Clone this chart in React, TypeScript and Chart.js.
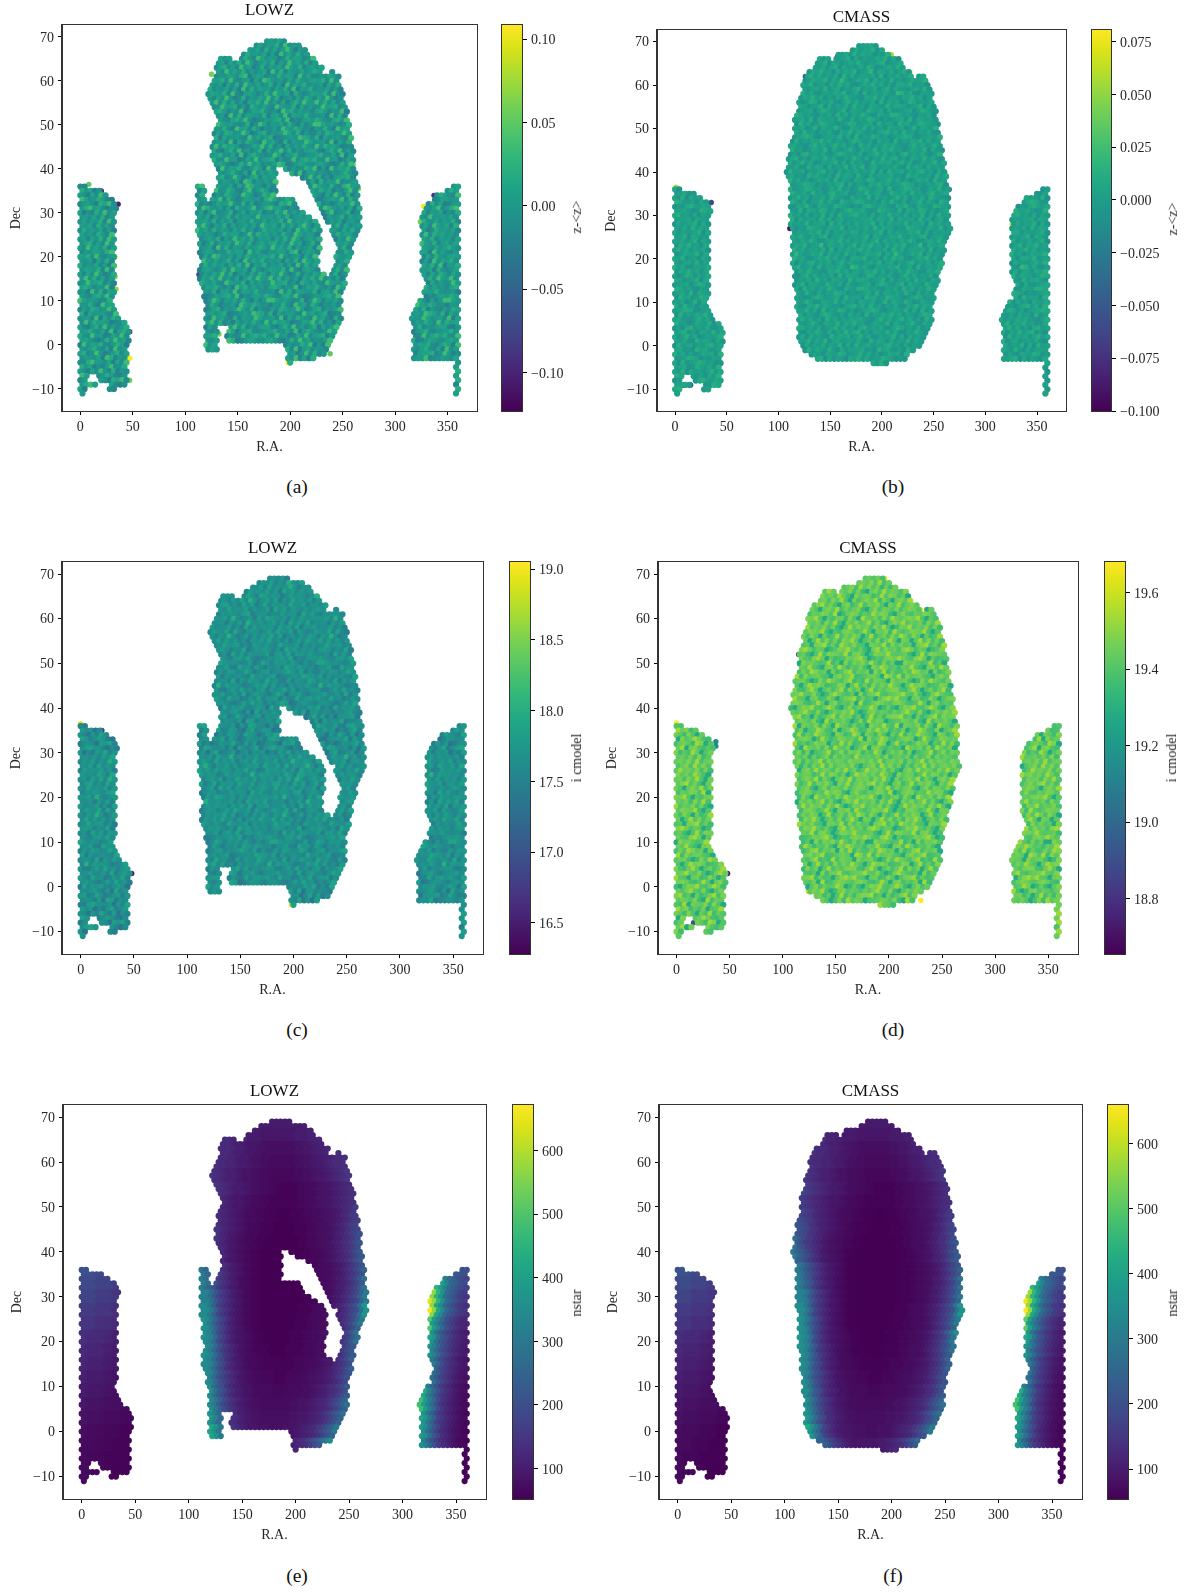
import React, { useEffect, useRef } from "react";
import { Chart, registerables } from "chart.js";
Chart.register(...registerables);
Chart.defaults.font.family = "'Liberation Serif', serif";

// Footprints: one row per degree of Dec, flat [from,to,from,to...] R.A. pairs.
const mainLowz = [
[175,197],[165,211],[159,218],[154,221],[130,146,151,224],[130,229],[128,234],[128,231,235,244],[126,248],[124,249],
[122,250],[121,251],[119,252],[120,253],[122,254],[124,255],[126,256],[128,257],[129,257],[129,258],
[128,258],[126,259],[125,260],[123,261],[123,261],[123,262],[124,262],[125,263],[128,263],[129,188,192,264],
[130,188,198,265],[130,188,207,265],[131,188,213,266],[110,120,129,188,216,267],[110,120,127,188,219,267],[110,120,124,188,222,267],[110,120,122,206,224,267],[110,208,225,268],[110,211,227,268],[110,216,229,268],
[110,223,231,268],[110,226,234,268],[110,228,237,268],[110,230,238,267],[110,231,240,265],[111,231,241,262],[111,231,242,261],[111,231,243,261],[112,230,243,260],[113,229,242,258],
[113,229,241,258],[112,229,240,257],[111,229,239,256],[111,234,238,256],[112,255],[113,255],[114,254],[116,253],[116,251],[116,251],
[117,251],[117,251],[117,251],[117,250],[117,248],[118,133,139,247],[118,132,138,247],[118,131,138,243],[118,133,140,241],[118,133,194,240],
[118,133,194,238],[195,234],[196,224],[196,202],
];
const mainCmass = [
[176,197],[167,203],[155,210],[138,150,152,218],[135,220],[132,225],[128,230],[125,232,234,245],[123,247],[122,249],
[121,250],[120,250],[119,251],[118,252],[117,253],[116,254],[115,255],[114,256],[113,256],[113,257],
[113,258],[112,258],[111,259],[110,260],[110,260],[109,261],[108,261],[108,262],[106,263],[106,263],
[108,265],[109,265],[110,266],[110,267],[110,267],[110,267],[110,267],[110,267],[110,267],[110,267],
[110,267],[110,268],[111,268],[111,267],[111,266],[111,264],[111,263],[111,262],[111,262],[111,261],
[112,260],[112,259],[113,258],[113,257],[114,256],[114,255],[115,254],[115,253],[116,252],[116,251],
[116,251],[117,251],[117,250],[117,250],[118,249],[118,247],[118,245],[118,243],[119,241],[120,238],
[124,234],[130,229],[136,224],[190,206],
];
const westBlock = [
[-2,8],[-2,20],[-2,27],[-2,33],[-2,37],[-2,36],[-2,36],[-2,35],[-2,35],[-2,35],[-2,35],[-2,35],
[-2,34],[-2,34],[-2,34],[-2,34],[-2,34],[-2,34],[-2,34],[-2,34],[-2,34],[-2,34],[-2,34],[-2,34],[-2,34],[-2,34],
[-2,33],[-2,33],[-2,37],[-2,38],[-2,40],[-2,47],[-2,48],[-2,48],[-2,48],[-2,48],[-2,47],
[-2,47],[-2,47],[-2,47],[-2,47],[-2,47],[-2,47],[-2,11,16,47],[-2,9,16,47],[-2,16,25,46],[-2,6,26,35],[-2,6],
];
const eastBlock = [
[353,362],[347,362],[338,362],[334,362],[330,362],[327,362],[325,362],[324,362],[323,362],
[324,362],[324,362],[324,362],[324,362],[324,362],[324,362],[324,362],[324,362],[324,362],[324,362],[324,362],
[326,362],[326,362],[327,362],[327,362],[326,362],[325,362],[322,362],[318,362],[315,362],[314,362],[313,362],[314,362],
[315,362],[315,362],[315,362],[315,362],[315,362],[315,362],[315,362],[316,362],
[355,362],[355,362],[355,362],[355,362],[355,362],[355,362],[355,362],[355,362],
];

// Cell speckle: the cell-level colours are eyeballed estimates, one digit per cell, not measured values.
const speckleLowzZ = [
"564738256471635827465395","473658294657382647156384","657284736951648273564729","385647261957384652748361",
"746385297465138576249386","562748396257481639574826","478362957148265739648257","639574826357194826537468",
"254763891576243857619473","768394256173985462738546","546173829647358261947583","835472619384756274839165",
"476582931675248396571842","627495138264759381462738","594837261758493627158496","349678251864732965481736",
"786254913768425196837452","451938276548167392765843","632785941236578491326758","975642381497265738416259",
"548319672851436297586341","263874596137825469738152","817456329574681235649873","456291738642957318265497",
"394867512376948251736485","721584936258173694825367","568437291685324971568324","843956127493678152394786",
"675213849572436981257643","194768325861947253486915","536842719364758291673542","782495136827561493825167",
"465371982546392718465923","328965471739854162397548","857142693486217935861274","641739528153864297513869",
"973586214675928413764528","256418793824137569428371","589673142398546271853692","714285936471692358147265",
];
const speckleCmassZ = [
"455636547264553746256345","364557263645473556274635","546374655243765436547254","635445726354465736254546",
"457265346574354672456345","546357264536475235647463","365745264657345826546357","574635462746355463725464",
"246557364853465726453745","657345264756324657463526","435647356254673546257364","746325546573462735546428",
"365746253647543265746355","524763546325746354627365","653457263546374526543746","345625764357265437546263",
"764532546274635475326547","456372654537426354765243","275634765423576345627455","546247365475236547364526",
"637452546326574653425674","456763245547362735476352","273546574635425764352645","564325746357463527463546",
"745236547264357426547365","352674546325764536245746","467352654746325475362547","635746235457362645327465",
"546327465263547364725634","274563546745263546354726","563427564352746537426355","746352465627354265476345",
"345765243546726354265746","627345764523647352476535","456237546374526745632547","537264535746254637543264",
"764352647536245736427546","243675465326574265437654","556423765437265476352467","674536254745362547263745",
];
const speckleLowzI = [
"453627485362745936254736","364725396475283647156384","547283646951547362465728","275647361857374652648351",
"645385287465137465249376","462738396257471538463726","378352847148265638547256","538464726347184726436357",
"254653781465243746518473","657394246173875462637546","445163729546357261847482","734472518374656274738165",
"375482831565247385471742","526495137263658371362637","483736251647483526147385","348567241753632854471635",
"675243813657425185736452","351837265447167382664743","532674831235467481325657","864542371386265637315248",
"447218562741436286475341","263763485136724468637152","716345328463571234548763","355281637542846217264386",
"293756412375837241635474","621473835257163583724356","457336281574314860457313","742845126382567152283675",
"564213738461425870146532","183657324750836243375814","435731608253647280562431","671384125716450382714056",
"354260871435281607354812","217854360628743051286437","746031582375106824750163","530628417042753186402758",
"862475103564817302653417","145307682713026458317260","478562031287435160742581","603174825360581247036154",
];
const speckleCmassI = [
"564738256471635827465395","675849367582746938576486","468395847162759384675830","596758372068495763859472",
"857496308576249487360497","673859407368592740685937","589473068259376840759368","740685937468205837648368",
"365874902687354968720584","879405367284096573849657","657284930758469372058694","946583720495867385940276",
"587693042786359407682953","738506249375860492573849","605948372869504738269507","450789362975843076592847",
"897365024879536207948563","562049387659278403876954","743896052347689502437869","086753492508376849527360",
"659420783962547308697452","374985607248936570849263","928567430685792346750984","567302849753792429376508",
"405978623487059362847596","832695047369284705936478","679548302796435082679435","954067238504789263405897",
"786324950683547092368754","205879436972058364597026","647953820475869302784653","893506247938672504936278",
"576482093657403829576034","439076582840965273408659","968253704597328046972385","752840639264975308624970",
"084697325786039524875639","367529804935248670539482","690784253409657382964703","825396047582703469258376",
];
const digitLevelsLowzZ = [-0.032, -0.022, -0.015, -0.009, -0.004, 0.001, 0.006, 0.012, 0.021, 0.036];
const digitLevelsCmassZ = [-0.026, -0.016, -0.009, -0.004, 0, 0.004, 0.008, 0.013, 0.019, 0.029];
const digitLevelsLowzI = [17.36, 17.47, 17.54, 17.6, 17.65, 17.7, 17.75, 17.81, 17.88, 18.02];
const digitLevelsCmassI = [19.28, 19.33, 19.36, 19.38, 19.4, 19.42, 19.44, 19.46, 19.48, 19.53];

// nstar: base-36 index into nstarLevels per sky column, one row per 3 deg of Dec.
const nstarLevels = [52,58,64,70,76,83,90,98,106,115,125,135,147,160,175,190,205,222,240,260,280,300,320,345,370,395,420,450,480,510,540,570,600,625,645,665];
const nstarColsWest = [0, 8, 16, 24, 32, 40, 48];
const nstarColsMain = [108,112,116,120,124,128,132,136,140,144,148,152,156,160,164,168,172,176,180,184,188,192,196,200,204,208,212,216,220,224,228,232,236,240,244,248,252,256,260,264,268];
const nstarColsEast = [312,316,320,324,328,332,336,340,344,348,352,356,360];
const nstarMain = [
"888888888888888 7777777777 8888888888888888",
"aaaaaaaa 99 88 777 66666666 777 88 99 aaaaaaaaaaa",
"bbbbbb aa 9 88 7 66 55 4444444 55 66 7 88 9 aa bb cccccc",
"bbbbb aa 9 9 8 7 7 6 5 5 4 4 3 3 3 3 3 3 4 4 5 5 6 7 7 8 9 a a b b c c c c c",
"ddd c b a 9 8 8 7 6 5 5 4 4 3 3 2 2 2 2 2 2 3 3 4 4 5 6 6 7 8 9 a b c d d e e e",
"eee d c b a 9 8 7 7 6 5 4 4 3 3 2 2 1 1 1 1 1 2 2 3 3 4 5 5 6 7 8 9 a b c d e f",
"ee d c b a 9 8 7 6 6 5 4 3 3 2 2 1 1 1 1 1 1 1 2 2 3 3 4 5 5 6 7 8 9 a b d e f f",
"ff e d c a 9 8 7 6 5 4 3 3 2 2 1 1 1 0 0 0 1 1 1 2 2 3 3 4 5 5 6 7 9 a c d f g g",
"hg f e c b 9 8 7 6 5 4 3 2 2 1 1 1 0 0 0 0 0 1 1 1 2 2 3 4 4 5 6 8 9 b d e g i i",
"kh f d c a 9 7 6 5 4 3 2 2 1 1 0 0 0 0 0 0 0 0 1 1 2 2 3 4 4 5 7 8 a b d f h j j",
"li h f d b 9 7 6 5 4 3 2 1 1 0 0 0 0 0 0 0 0 0 0 1 1 2 2 3 4 5 6 8 9 b d f h k k",
"ll j h f d b 9 7 6 5 3 2 1 1 0 0 0 0 0 0 0 0 0 0 1 1 1 2 3 3 4 5 6 8 a c e g i l",
"mm k i g d b 9 7 6 4 3 2 1 1 0 0 0 0 0 0 0 0 0 0 1 1 1 2 3 3 4 5 7 8 a c e h k m",
"mmm k h e c a 8 6 5 3 2 1 1 0 0 0 0 0 0 0 0 0 0 1 1 1 2 3 3 4 6 7 9 b d f i l o",
"nnn l i e c a 8 6 5 3 2 1 1 0 0 0 0 0 0 0 0 0 1 1 1 2 3 3 4 5 7 8 a c e g k o q",
"oo n l i f d a 8 6 5 3 2 1 1 0 0 0 0 0 0 0 0 1 1 1 2 2 3 3 4 5 7 9 b d f i l o o",
"oo n m j f d a 8 6 5 4 3 2 1 1 0 0 0 0 0 0 1 1 1 2 2 3 3 4 5 6 8 a c e h k n n n",
"oo n m j g d b 9 7 5 4 3 2 1 1 1 0 0 0 0 1 1 1 1 2 2 3 4 4 5 7 9 b d f h k m m m",
"nnn m j g e b 9 7 6 4 3 3 2 2 1 1 1 1 1 1 1 2 2 2 3 3 4 5 6 7 9 b d f i k l l l",
"nnn m j g e c a 8 6 5 4 3 3 2 2 2 1 1 1 2 2 2 3 3 4 4 5 6 7 8 a c e g i k k k k",
"nnnn k h f c a 8 7 5 5 4 3 3 3 3 2 2 2 3 3 3 3 4 4 5 6 7 8 a b d f h j k k k k",
"nnnn l i f d b 9 7 6 5 4 4 3 3 3 3 3 3 3 4 4 5 5 6 7 8 9 a c e g i k l l l l l",
"ppp o m j g e b a 8 7 6 5 5 4 4 4 4 4 4 4 5 5 6 6 7 8 9 a c e g i k m m m m m m",
"qqqq o l i e c a 8 7 6 6 5 5 5 4 4 4 5 5 5 6 7 8 9 a c e g i l n o o o o o o o",
"iiiiiiii g e c a 8 7 6 6 6 6 6 6 7 7 8 9 a b d f h j l n n n n n n n n n n",
];
const nstarWest = ["ggffeee","ffeedcc","eeddcba","ddccba9","ccbba98","baa9887","a998776","9887665","8776554","7665443","6554432","5443322","4332211","3322111","3221111","3221111"];
const nstarEast = [
"iiiiiiiiihhgg","ssss s r p m j i g f e","yyyy v r o k i g e d c","zzzz v q n j h f d c b","tttt p m j g e c a 9 9","qqqq o k h f d b 9 8 7",
"oooo m j g e c a 8 7 6","nnnn l i f d b 9 7 6 5","oooo k h e c a 8 6 5 4","s s q m j g d b 9 7 5 4 3","s s p m j f c a 8 6 5 3 3","q q o l i e c a 8 6 4 3 2",
"p p n k h e b 9 7 5 4 2 1","o o m j g d b 9 7 5 3 2 1","1111111111111","1111111111111",
];

// Stand-out cells: [R.A., Dec, value].
const outliersA = [[145,1,.11],[187,1,.1],[191,1,.11],[198,-4,.11],[33,20,.1],[47,-3,.11],[327,31.5,.11],[150,1,-.11],[153,1,-.115],[167,1,-.11],[47,3,-.12],[20,35,-.09],[36,32,-.1],[183,69,.08],[187,68.5,-.09],[209,67.5,-.08],[264,27,-.09],[180,40,-.1],[223,27,-.08],[337,34,-.09],[125,61.5,.06],[260,41,.06],[265,35.5,.065],[324,28,.06],[347,19,.06],[132,2.5,.06],[238,15,.07],[2,8,.05],[8,-9,.06],[33,15.5,.06],[34,12.7,.07],[47,-8,.06],[113,16,-.07],[238,-2,.05],[249,6,.05],[8,36.5,.05],[168,64,.05],[208,65,.05],[165,67,.05]];
const outliersB = [[171,68,.08],[157,66.5,-.1],[227,63,.07],[209,67,.055],[147,64,.06],[1,36.5,.06],[35,33,-.06],[265,36,-.07],[116,52,-.07],[111,27,-.09],[126,62,-.05],[15,-9,-.09],[8,-9,-.09],[359,-11,.075],[261,40,.05],[326,28,.06],[182,48,.05],[5,23,.05]];
const outliersC = [[0,36.5,18.9],[330,31,18.8],[125,58,18.7],[48,3,16.5],[20,35,16.8],[198,-4,18.9],[125,3,18.6],[146,1,18.8],[188,1,18.8],[33,20,18.6],[225,62,16.9],[264,27,16.8]];
const outliersD = [[48,3,18.7],[16,-8,18.9],[245,11,18.8],[125,2,19.68],[0,36.7,19.68],[230,-3,19.68],[230,62,19.65],[115,52,18.75],[37,32.5,19.15],[37,31.5,19.15],[120,34.4,19.6],[196,69,19.66],[124,-1,19.62]];
const skyGaps = [[348,22]];

const ticksA = [-0.1, -0.05, 0, 0.05, 0.1];
const ticksB = [-0.1, -0.075, -0.05, -0.025, 0, 0.025, 0.05, 0.075];
const ticksC = [16.5, 17, 17.5, 18, 18.5, 19];
const ticksD = [18.8, 19, 19.2, 19.4, 19.6];
const ticksNstar = [100, 200, 300, 400, 500, 600];
const ticksRa = [0, 50, 100, 150, 200, 250, 300, 350];
const ticksDec = [-10, 0, 10, 20, 30, 40, 50, 60, 70];

const viridisStops = [
[0,"#440154"],[.05,"#471365"],[.1,"#482475"],[.15,"#463480"],[.2,"#414487"],[.25,"#3b528b"],[.3,"#355f8d"],[.35,"#2f6c8e"],[.4,"#2a788e"],[.45,"#25848e"],[.5,"#21918c"],
[.55,"#1e9c89"],[.6,"#22a884"],[.65,"#2fb47c"],[.7,"#44bf70"],[.75,"#5ec962"],[.8,"#7ad151"],[.85,"#9bd93c"],[.9,"#bddf26"],[.95,"#dfe318"],[1,"#fde725"],
] as [number, string][];

function hexRgb(h: string) { return [1, 3, 5].map((i) => parseInt(h.slice(i, i + 2), 16)); }
function viridis(t: number) {
  const f = Math.max(0, Math.min(1, t)) * 20;
  const i = Math.min(19, Math.floor(f));
  const a = hexRgb(viridisStops[i][1]), b = hexRgb(viridisStops[i + 1][1]);
  const m = f - i;
  return `rgb(${a.map((v, k) => Math.round(v + (b[k] - v) * m)).join(",")})`;
}

function nearest(cols: number[], ra: number) {
  let best = 0;
  cols.forEach((c, i) => { if (Math.abs(c - ra) < Math.abs(cols[best] - ra)) best = i; });
  return best;
}
function nstarAt(ra: number, dec: number) {
  const band = Math.max(0, Math.min(26, Math.round((69 - dec) / 3)));
  let s: string, c: number;
  if (ra < 60) { s = nstarWest[Math.max(0, band - 11)]; c = nearest(nstarColsWest, ra); }
  else if (ra < 290) { s = nstarMain[Math.min(nstarMain.length - 1, band)]; c = nearest(nstarColsMain, ra); }
  else { s = nstarEast[Math.max(0, band - 11)]; c = nearest(nstarColsEast, ra); }
  const t = s.replace(/ /g, "");
  return nstarLevels[parseInt(t[Math.min(c, t.length - 1)], 36)];
}

type Cell = { x: number; y: number; row: number; idx: number };
function buildCells(main: number[][]) {
  const out: Cell[] = [];
  for (let dec = 69; dec >= -11; dec--) {
    const row = 69 - dec;
    const spans = [...(dec <= 36 ? westBlock[36 - dec] : []), ...(main[row] || []), ...(dec <= 36 ? eastBlock[36 - dec] : [])];
    const off = Math.abs(dec) % 2 ? 2 : 0;
    let idx = 0;
    for (let s = 0; s < spans.length; s += 2) {
      for (let c = off; c <= 360; c += 4) {
        if (c >= spans[s] + 2 && c <= spans[s + 1] - 2) { out.push({ x: c, y: dec, row, idx }); idx++; }
      }
    }
  }
  return out;
}
const lowzCells = buildCells(mainLowz);
const cmassCells = buildCells(mainCmass);

function fromSpeckle(table: string[], levels: number[]) {
  return (c: Cell) => {
    const s = table[c.row % table.length];
    return levels[+s[c.idx % s.length]];
  };
}
const nstarValue = (c: Cell) => nstarAt(c.x, c.y);

const panels = [
  { title: "LOWZ", cells: lowzCells, value: fromSpeckle(speckleLowzZ, digitLevelsLowzZ), outliers: outliersA, min: -0.123, max: 0.1085, ticks: ticksA, dec: 2, label: "z-<z>", caption: "(a)", nudge: 0,
    L: 62, T: 25, R: 477, B: 411, cl: 502, cr: 522, lx: 577, ly: 217, capx: 297, capy: 487 },
  { title: "CMASS", cells: cmassCells, value: fromSpeckle(speckleCmassZ, digitLevelsCmassZ), outliers: outliersB, min: -0.1, max: 0.0805, ticks: ticksB, dec: 3, label: "z-<z>", caption: "(b)", nudge: 2,
    L: 657, T: 30, R: 1066, B: 411, cl: 1092, cr: 1111, lx: 1173, ly: 219, capx: 893, capy: 487 },
  { title: "LOWZ", cells: lowzCells, value: fromSpeckle(speckleLowzI, digitLevelsLowzI), outliers: outliersC, min: 16.28, max: 19.05, ticks: ticksC, dec: 1, label: "i cmodel", caption: "(c)", nudge: 0.7,
    L: 62, T: 562, R: 483, B: 954, cl: 510, cr: 530, lx: 577, ly: 758, capx: 297, capy: 1030 },
  { title: "CMASS", cells: cmassCells, value: fromSpeckle(speckleCmassI, digitLevelsCmassI), outliers: outliersD, min: 18.656, max: 19.68, ticks: ticksD, dec: 1, label: "i cmodel", caption: "(d)", nudge: 0.7,
    L: 658, T: 562, R: 1078, B: 954, cl: 1105, cr: 1125, lx: 1172, ly: 758, capx: 893, capy: 1030 },
  { title: "LOWZ", cells: lowzCells, value: nstarValue, outliers: [], min: 52, max: 672, ticks: ticksNstar, dec: 0, label: "nstar", caption: "(e)", nudge: 1,
    L: 63, T: 1105, R: 486, B: 1499, cl: 513, cr: 533, lx: 577, ly: 1303, capx: 297, capy: 1576 },
  { title: "CMASS", cells: cmassCells, value: nstarValue, outliers: [], min: 54, max: 659, ticks: ticksNstar, dec: 0, label: "nstar", caption: "(f)", nudge: 1,
    L: 659, T: 1105, R: 1082, B: 1499, cl: 1108, cr: 1128, lx: 1173, ly: 1303, capx: 893, capy: 1576 },
];

const RA_MIN = -17.5, RA_MAX = 378, DEC_MIN = -15, DEC_MAX = 72.7;
const INK = "#262626";
const fmt = (v: number, d: number) => {
  const r = (+v).toFixed(d);
  return r.startsWith("-") ? "\u2212" + r.slice(1) : r;
};
const setTicks = (values: number[]) => (s: any) => { s.ticks = values.map((value) => ({ value })); };
const framePlugin = {
  id: "frame",
  afterDraw(chart: any) {
    const a = chart.chartArea, c = chart.ctx;
    c.save();
    c.strokeStyle = "#333";
    c.lineWidth = 1;
    c.strokeRect(a.left - 0.5, a.top - 0.5, a.width + 1, a.height + 1);
    c.restore();
  },
};

function Panel({ p }: { p: (typeof panels)[number] }) {
  const mainRef = useRef<HTMLCanvasElement>(null);
  const barRef = useRef<HTMLCanvasElement>(null);
  useEffect(() => {
    const norm = (v: number) => (v - p.min) / (p.max - p.min);
    const tickGrid = { drawOnChartArea: false, drawTicks: true, tickLength: 4, color: "#000" };
    const main = new Chart(mainRef.current as any, {
      type: "scatter",
      data: {
        datasets: [
          { data: p.cells.map((c) => ({ x: c.x, y: c.y })), pointBackgroundColor: p.cells.map((c) => viridis(norm(p.value(c)))), pointRadius: 3.1, pointBorderWidth: 0 },
          { data: p.outliers.map((o) => ({ x: o[0], y: o[1] })), pointBackgroundColor: p.outliers.map((o) => viridis(norm(o[2]))), pointRadius: 2.7, pointBorderWidth: 0 },
          { data: skyGaps.map((o) => ({ x: o[0], y: o[1] })), pointBackgroundColor: "#fff", pointRadius: 1, pointBorderWidth: 0 },
        ],
      } as any,
      options: {
        animation: false, responsive: false, events: [],
        layout: { padding: { left: 0, right: 4, top: 0, bottom: 0 } },
        plugins: {
          legend: { display: false }, tooltip: { enabled: false },
          title: { display: true, fullSize: false, text: p.title, color: "#111", font: { size: 17, weight: "normal" }, padding: { top: 3.3 + p.nudge, bottom: 4.3 - p.nudge } },
        },
        scales: {
          x: {
            type: "linear", min: RA_MIN, max: RA_MAX, grid: tickGrid, border: { color: "#333" },
            afterBuildTicks: setTicks(ticksRa),
            ticks: { autoSkip: false, maxRotation: 0, padding: 4, color: INK, font: { size: 14 }, callback: (v: any) => fmt(v, 0) },
            title: { display: true, text: "R.A.", color: INK, font: { size: 14 }, padding: { top: 0, bottom: 1 } },
            afterFit: (s: any) => { s.height = 46; },
          },
          y: {
            type: "linear", min: DEC_MIN, max: DEC_MAX, grid: tickGrid, border: { color: "#333" },
            afterBuildTicks: setTicks(ticksDec),
            ticks: { autoSkip: false, padding: 4, labelOffset: 1, color: INK, font: { size: 14 }, callback: (v: any) => fmt(v, 0) },
            title: { display: true, text: "Dec", color: INK, font: { size: 14 }, padding: { top: 3.6, bottom: 0 } },
            afterFit: (s: any) => { s.width = 58; },
          },
        },
      } as any,
      plugins: [framePlugin],
    });
    const bar = new Chart(barRef.current as any, {
      type: "bar",
      data: {
        labels: [p.label],
        datasets: [{
          data: [[p.min, p.max]], barPercentage: 1, categoryPercentage: 1, borderWidth: 0,
          backgroundColor: (ctx: any) => {
            const a = ctx.chart.chartArea;
            if (!a) return "#000";
            const g = ctx.chart.ctx.createLinearGradient(0, a.bottom, 0, a.top);
            viridisStops.forEach(([t, col]) => g.addColorStop(t, col));
            return g;
          },
        }],
      } as any,
      options: {
        animation: false, responsive: false, events: [],
        layout: { padding: { left: 1, right: 0, top: 8, bottom: 8 } },
        plugins: { legend: { display: false }, tooltip: { enabled: false }, title: { display: false } },
        scales: {
          x: { display: false },
          y: {
            position: "right", min: p.min, max: p.max, grid: { ...tickGrid, tickLength: 5 }, border: { color: "#333" },
            afterBuildTicks: setTicks(p.ticks),
            ticks: { autoSkip: false, padding: 4, labelOffset: 1.5, color: INK, font: { size: 14 }, callback: (v: any) => fmt(v, p.dec) },
            afterFit: (s: any) => { s.width = 60; s.paddingTop = 0; s.paddingBottom = 0; },
          },
        },
      } as any,
      plugins: [framePlugin],
    });
    return () => { main.destroy(); bar.destroy(); };
  }, [p]);
  const abs = { position: "absolute" } as const;
  const serif = "'Liberation Serif', serif";
  return (
    <>
      <canvas ref={mainRef} width={p.R - p.L + 62} height={p.B - p.T + 74} style={{ ...abs, left: p.L - 58, top: p.T - 28, width: p.R - p.L + 62, height: p.B - p.T + 74 }} />
      <canvas ref={barRef} width={p.cr - p.cl + 61} height={p.B - p.T + 16} style={{ ...abs, left: p.cl - 1, top: p.T - 8, width: p.cr - p.cl + 61, height: p.B - p.T + 16 }} />
      <div style={{ ...abs, left: p.lx, top: p.ly, transform: "translate(-50%,-50%) rotate(-90deg)", fontFamily: serif, fontSize: 14, color: INK, whiteSpace: "nowrap" }}>{p.label}</div>
      <div style={{ ...abs, left: p.capx, top: p.capy, transform: "translate(-50%,-50%)", fontFamily: serif, fontSize: 19.5, color: "#111", whiteSpace: "nowrap" }}>{p.caption}</div>
    </>
  );
}

export default function App() {
  return (
    <div style={{ position: "absolute", left: 0, top: 0, width: 1189, height: 1596, overflow: "hidden", background: "#fff" }}>
      {panels.map((p) => <Panel key={p.caption} p={p} />)}
    </div>
  );
}
